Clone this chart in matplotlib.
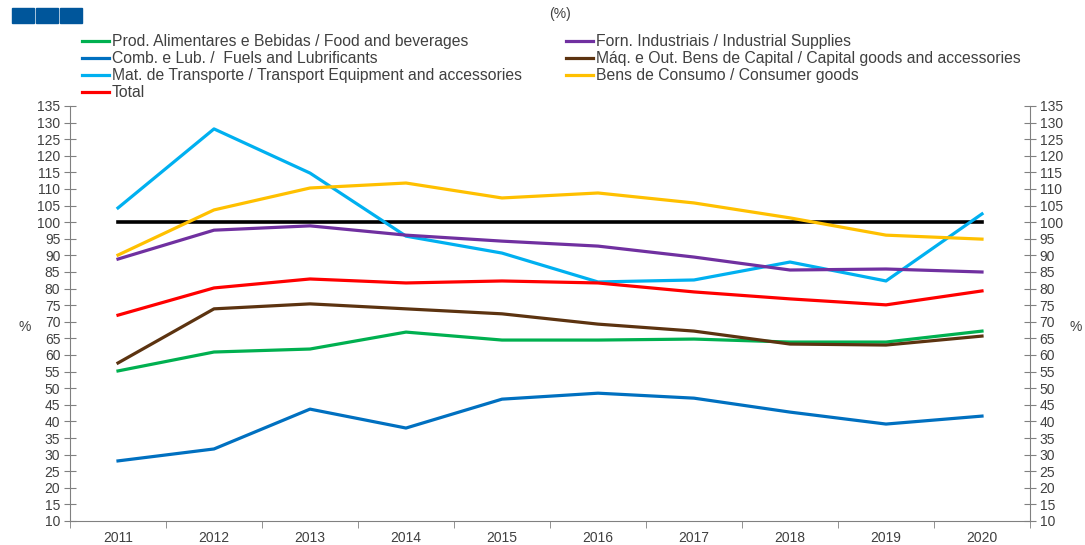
import matplotlib
matplotlib.use("Agg")
import matplotlib.pyplot as plt
from matplotlib.patches import Rectangle
from matplotlib.ticker import FixedLocator, NullFormatter

plt.rcParams['font.family'] = ['Liberation Sans', 'DejaVu Sans']

years = [2011, 2012, 2013, 2014, 2015, 2016, 2017, 2018, 2019, 2020]
food = [55.2, 60.9, 61.8, 66.9, 64.5, 64.5, 64.8, 63.9, 63.9, 67.2]
fuels = [28.1, 31.7, 43.7, 38.0, 46.7, 48.5, 47.0, 42.8, 39.2, 41.6]
transport = [104.3, 128.1, 114.8, 95.8, 90.7, 82.0, 82.6, 88.0, 82.3, 102.5]
total = [72.0, 80.2, 82.9, 81.7, 82.3, 81.7, 79.0, 76.9, 75.1, 79.3]
industrial = [88.9, 97.6, 98.9, 96.1, 94.3, 92.8, 89.5, 85.6, 85.9, 85.0]
capital = [57.6, 73.9, 75.4, 73.9, 72.4, 69.3, 67.2, 63.3, 63.0, 65.7]
consumer = [90.1, 103.7, 110.3, 111.8, 107.3, 108.8, 105.8, 101.3, 96.1, 94.9]
reference = [100] * len(years)

labels_col1 = ["Prod. Alimentares e Bebidas / Food and beverages",
               "Comb. e Lub. /  Fuels and Lubrificants",
               "Mat. de Transporte / Transport Equipment and accessories",
               "Total"]
labels_col2 = ["Forn. Industriais / Industrial Supplies",
               "Máq. e Out. Bens de Capital / Capital goods and accessories",
               "Bens de Consumo / Consumer goods"]

W, H = 1085, 545
fig = plt.figure(figsize=(W / 100, H / 100), dpi=100)
ax = fig.add_axes([70 / W, 1 - 521 / H, (1030 - 70) / W, (521 - 106) / H])

lw = 2.3
ax.plot(years, reference, color='black', lw=2.6, zorder=2)
h_food, = ax.plot(years, food, color='#00B050', lw=lw, label=labels_col1[0])
h_fuels, = ax.plot(years, fuels, color='#0070C0', lw=lw, label=labels_col1[1])
h_trans, = ax.plot(years, transport, color='#00B0F0', lw=lw, label=labels_col1[2])
h_ind, = ax.plot(years, industrial, color='#7030A0', lw=lw, label=labels_col2[0])
h_cap, = ax.plot(years, capital, color='#5C3310', lw=lw, label=labels_col2[1])
h_cons, = ax.plot(years, consumer, color='#FFC000', lw=lw, label=labels_col2[2])
h_tot, = ax.plot(years, total, color='#FF0000', lw=lw, label=labels_col1[3])

ax.set_xlim(years[0] - 0.5, years[-1] + 0.5)
ax.set_ylim(10, 135)
yt = list(range(10, 136, 5))
ax.set_yticks(yt)
ax.set_xticks(years)
ax.set_xticklabels([str(y) for y in years])
ax.xaxis.set_minor_locator(FixedLocator([y - 0.5 for y in years] + [years[-1] + 0.5]))
ax.xaxis.set_minor_formatter(NullFormatter())
ax.tick_params(axis='x', which='major', length=0, pad=7, labelsize=10, labelcolor='#404040')
ax.tick_params(axis='x', which='minor', length=5, color='#808080', direction='out')
ax.tick_params(axis='y', which='major', length=8, direction='inout', color='#808080',
               labelsize=10, labelcolor='#404040', left=True, right=True,
               labelleft=True, labelright=True, pad=3)

for s in ['left', 'right', 'bottom']:
    ax.spines[s].set_color('#808080')
ax.spines['top'].set_visible(False)

fig.text(25 / W, 1 - 327 / H, '%', fontsize=10, color='#404040', ha='center', va='center')
fig.text(1076 / W, 1 - 327 / H, '%', fontsize=10, color='#404040', ha='center', va='center')
fig.text(560 / W, 1 - 14 / H, '(%)', fontsize=10, color='#404040', ha='center', va='center')

# logo squares
for i in range(3):
    fig.patches.append(Rectangle(((12 + i * 24) / W, 1 - 23 / H), 22 / W, 15 / H,
                                 transform=fig.transFigure, color='#00569B'))

leg_kw = dict(frameon=False, fontsize=11.3, handlelength=1.75, handletextpad=0.15,
              labelspacing=0.13, borderaxespad=0, borderpad=0, labelcolor='#404040')
fig.legend(handles=[h_food, h_fuels, h_trans, h_tot], loc='upper left',
           bbox_to_anchor=(82 / W, 1 - 34 / H), **leg_kw)
fig.legend(handles=[h_ind, h_cap, h_cons], loc='upper left',
           bbox_to_anchor=(566 / W, 1 - 34 / H), **leg_kw)

fig.savefig('out.png', dpi=100)
